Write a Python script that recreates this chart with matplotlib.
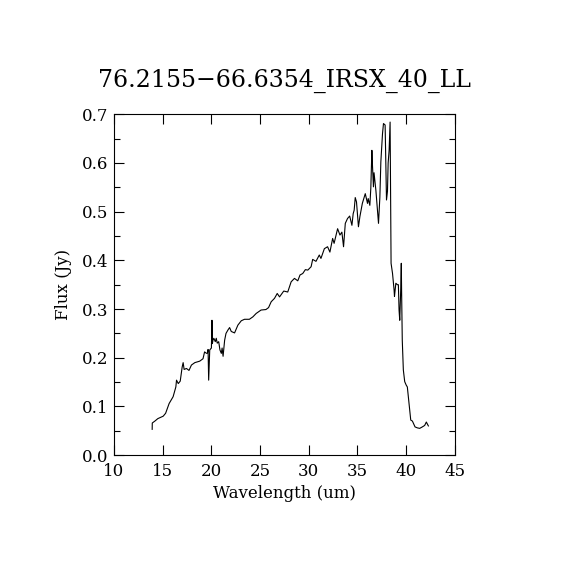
import matplotlib
matplotlib.use("Agg")
import matplotlib.pyplot as plt
from matplotlib.ticker import MultipleLocator

# spectrum
wavelength = [13.92, 13.93, 14.2, 14.5, 15.05, 15.3, 15.66, 16.07, 16.35, 16.42,
              16.6, 16.8, 17.0, 17.1, 17.2, 17.44, 17.7, 17.95, 18.3, 18.8,
              19.14, 19.3, 19.5, 19.6, 19.66, 19.72, 19.83, 20.0, 20.06, 20.1,
              20.16, 20.25, 20.4, 20.5, 20.6, 20.75, 20.88, 21.02, 21.1, 21.2,
              21.36, 21.5, 21.7, 21.87, 22.04, 22.38, 22.72, 23.07, 23.4, 23.9,
              24.26, 24.6, 25.1, 25.6, 25.87, 26.14, 26.48, 26.76, 27.0, 27.43,
              27.84, 28.19, 28.53, 28.87, 29.1, 29.38, 29.65, 29.9, 30.24, 30.4,
              30.74, 31.08, 31.25, 31.6, 31.93, 32.17, 32.45, 32.6, 32.96, 33.2,
              33.4, 33.57, 33.75, 33.98, 34.2, 34.43, 34.56, 34.66, 34.77, 34.9,
              35.1, 35.25, 35.5, 35.8, 36.03, 36.1, 36.27, 36.37, 36.48, 36.54,
              36.64, 36.7, 36.89, 37.05, 37.16, 37.3, 37.4, 37.57, 37.67, 37.84,
              37.91, 37.98, 38.08, 38.15, 38.25, 38.35, 38.45, 38.6, 38.76, 38.8,
              38.94, 39.1, 39.2, 39.27, 39.34, 39.44, 39.5, 39.53, 39.6, 39.71,
              39.85, 40.0, 40.12, 40.22, 40.37, 40.47, 40.64, 40.91, 41.15, 41.39,
              41.66, 41.9, 42.07, 42.28]
flux = [0.053, 0.066, 0.070, 0.075, 0.080, 0.086, 0.106, 0.120, 0.140, 0.154,
        0.147, 0.152, 0.181, 0.190, 0.176, 0.178, 0.174, 0.185, 0.190, 0.193,
        0.198, 0.212, 0.209, 0.210, 0.217, 0.154, 0.216, 0.220, 0.277, 0.229,
        0.236, 0.240, 0.233, 0.240, 0.230, 0.233, 0.216, 0.209, 0.220, 0.203,
        0.236, 0.250, 0.257, 0.262, 0.254, 0.251, 0.267, 0.276, 0.279, 0.279,
        0.284, 0.291, 0.298, 0.299, 0.303, 0.315, 0.322, 0.332, 0.325, 0.337,
        0.335, 0.356, 0.363, 0.358, 0.370, 0.373, 0.381, 0.380, 0.387, 0.402,
        0.398, 0.411, 0.404, 0.424, 0.428, 0.417, 0.445, 0.435, 0.465, 0.452,
        0.458, 0.428, 0.476, 0.486, 0.491, 0.472, 0.496, 0.503, 0.529, 0.520,
        0.469, 0.490, 0.517, 0.537, 0.517, 0.527, 0.513, 0.548, 0.626, 0.595,
        0.551, 0.580, 0.544, 0.503, 0.476, 0.530, 0.602, 0.660, 0.681, 0.678,
        0.606, 0.524, 0.542, 0.600, 0.626, 0.684, 0.394, 0.373, 0.339, 0.326,
        0.353, 0.350, 0.350, 0.298, 0.277, 0.339, 0.394, 0.339, 0.236, 0.175,
        0.151, 0.144, 0.140, 0.120, 0.089, 0.072, 0.070, 0.058, 0.056, 0.055,
        0.058, 0.061, 0.068, 0.060]

title = "76.2155\u221266.6354_IRSX_40_LL"

plt.rcParams['font.family'] = ['DejaVu Serif']
plt.rcParams['mathtext.fontset'] = 'dejavuserif'

fig = plt.figure(figsize=(5.7, 5.7), dpi=100)
ax = fig.add_axes([0.2, 0.2015, 0.598, 0.598])

ax.plot(wavelength, flux, color='black', lw=0.8)

ax.set_xlim(10, 45)
ax.set_ylim(0.0, 0.7)
ax.xaxis.set_major_locator(MultipleLocator(5))
ax.yaxis.set_major_locator(MultipleLocator(0.1))
ax.yaxis.set_minor_locator(MultipleLocator(0.05))
ax.yaxis.set_major_formatter(plt.FormatStrFormatter('%.1f'))
ax.tick_params(which='both', direction='in', top=True, right=True,
               labelsize=12, width=0.8)
ax.tick_params(which='major', length=7)
ax.tick_params(which='minor', length=4)
ax.tick_params(axis='x', pad=6)
ax.tick_params(axis='y', pad=4)
for s in ax.spines.values():
    s.set_linewidth(0.8)

ax.set_xlabel("Wavelength (um)", fontsize=12, labelpad=3)
ax.set_ylabel("Flux (Jy)", fontsize=12, labelpad=7)
ax.set_title(title, fontsize=17, pad=20)

fig.savefig("out.png", dpi=100)
